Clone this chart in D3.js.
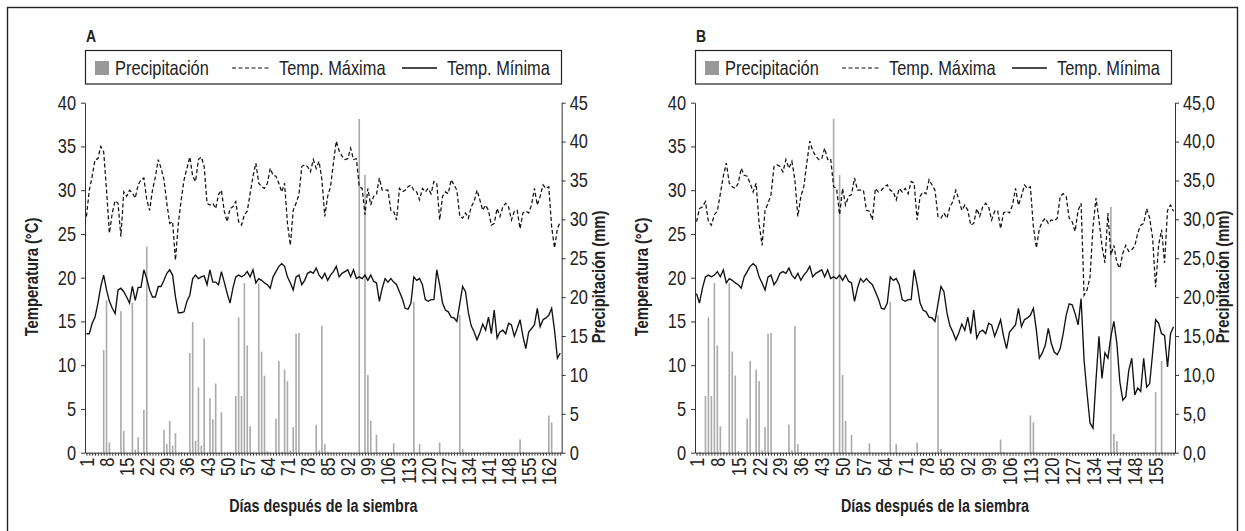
<!DOCTYPE html>
<html><head><meta charset="utf-8">
<script src="https://cdn.jsdelivr.net/npm/d3@7"></script>
<style>
body{margin:0;background:#fff}
svg{display:block}
text{font-family:"Liberation Sans",Arial,sans-serif;fill:#222}
</style>
</head><body>
<svg id="c" width="1245" height="531"></svg>
<script>
// ---------- DATA ----------
const legendLabels = ["Precipitación", "Temp. Máxima", "Temp. Mínima"];
const tempTicks = [0, 5, 10, 15, 20, 25, 30, 35, 40];
const precipTicks = [0, 5, 10, 15, 20, 25, 30, 35, 40, 45];
const xLabelsA = [1,8,15,22,29,36,43,50,57,64,71,78,85,92,99,106,113,120,127,134,141,148,155,162];
const xLabelsB = [1,8,15,22,29,36,43,50,57,64,71,78,85,92,99,106,113,120,127,134,141,148,155];

// Panel A: daily max / min temperature (°C), days 1..166
const tmaxA = [27.0,30.0,31.6,33.5,33.6,35.0,34.4,30.0,25.1,27.4,
28.8,28.5,24.7,29.8,29.3,30.0,29.7,29.1,30.6,31.2,
31.4,28.9,27.7,30.0,31.5,33.5,32.5,31.2,28.5,26.2,
26.4,22.0,26.2,28.9,31.2,32.5,33.8,31.6,31.0,33.5,
33.8,32.7,28.5,28.3,28.5,27.9,29.5,30.0,27.6,26.4,
27.9,28.1,28.7,26.4,26.0,27.2,27.6,29.6,31.6,33.1,
30.8,30.4,30.2,30.8,32.5,31.7,31.6,30.8,29.8,30.8,
26.2,23.7,27.7,28.5,29.5,32.7,32.9,32.7,32.1,33.5,
32.5,33.3,31.2,27.0,29.3,30.4,33.1,35.6,34.5,33.9,
33.5,33.6,34.8,33.5,33.6,30.4,30.2,27.2,30.2,28.3,
29.3,29.5,31.4,30.0,30.0,30.0,27.7,27.6,26.6,30.2,
29.8,30.0,30.4,30.6,30.0,29.8,28.9,30.2,29.8,30.2,
29.6,31.0,30.8,26.6,29.3,29.8,29.6,31.2,30.6,30.0,
27.0,26.8,27.4,26.8,28.1,28.7,30.0,28.9,27.7,28.3,
27.7,26.0,26.2,27.9,27.0,28.1,28.5,28.1,26.6,27.6,
27.7,25.6,27.4,27.6,27.4,28.3,30.2,28.3,29.3,30.6,
30.2,30.4,25.8,23.4,25.6,26.4];
const tminA = [13.6,13.6,14.8,15.5,17.1,19.0,20.3,18.6,17.3,16.5,
15.9,18.6,18.8,18.4,17.8,17.1,19.0,17.4,18.9,18.9,
20.9,19.9,18.6,17.8,17.8,19.0,19.0,19.7,20.5,20.9,
20.3,17.8,16.0,16.0,16.1,17.3,18.0,19.9,20.3,19.9,
20.1,20.2,19.2,20.9,19.5,19.5,19.2,20.7,19.5,18.2,
17.1,18.8,20.1,20.3,20.1,20.3,20.7,20.1,20.9,19.4,
19.9,19.7,19.4,19.2,18.8,20.1,20.7,21.3,21.6,21.3,
20.1,19.4,18.6,20.1,20.3,19.2,19.7,20.5,20.7,20.5,
21.1,20.3,19.9,20.5,19.7,20.3,20.7,21.3,20.1,20.5,
20.7,20.9,20.1,20.9,19.9,20.1,19.9,20.3,19.7,20.3,
19.6,19.4,17.3,18.8,19.9,19.5,19.9,19.5,19.2,18.4,
17.6,16.5,16.4,17.1,20.1,19.7,19.9,19.2,17.5,17.3,
17.5,17.5,20.9,19.2,17.1,16.3,16.1,15.5,15.4,15.0,
17.0,19.0,18.4,16.0,14.5,13.8,12.9,13.7,14.7,14.0,
15.5,13.6,16.3,13.1,13.8,14.0,13.6,14.8,14.6,13.3,
14.2,15.2,13.3,11.9,13.8,14.2,14.6,16.5,14.4,15.2,
15.4,15.7,16.5,14.0,10.8,11.4];
// Panel A: rainy days and precipitation (mm)
const rainDaysA = [7,8,9,13,14,17,18,19,21,22,28,29,30,31,32,34,37,38,39,40,41,42,44,45,46,48,51,
53,54,55,56,57,58,59,61,62,63,64,67,68,69,70,71,72,73,74,75,81,82,83,84,85,96,98,99,100,102,108,
115,117,124,131,132,141,152,153,162,163];
const rainA = [13.2,19.6,1.3,18.2,2.8,19.3,0.4,2.0,5.5,26.5,2.9,1.1,4.1,0.9,2.5,0.1,12.8,16.8,1.5,8.4,0.9,14.7,7.0,4.3,8.9,5.2,0.1,
7.3,17.4,7.3,21.8,13.8,3.4,0.1,21.8,13.0,9.9,0.2,4.4,11.8,0.1,10.7,9.2,0.3,3.3,15.3,15.4,3.6,0.3,16.3,1.1,0.1,42.9,35.7,10.0,4.1,2.3,1.2,
19.4,1.1,1.3,17.7,0.5,0.1,1.7,0.1,4.8,3.9];

// Panel B: days 1..161
const tmaxB = [26.4,27.9,28.1,28.7,26.4,26.0,27.2,27.6,29.6,31.6,
33.1,30.8,30.4,30.2,30.8,32.5,31.7,31.6,30.8,29.8,
30.8,26.2,23.7,27.7,28.5,29.5,32.7,32.9,32.7,32.1,
33.5,32.5,33.3,31.2,27.0,29.3,30.4,33.1,35.6,34.5,
33.9,33.5,33.6,34.8,33.5,33.6,30.4,30.2,27.2,30.2,
28.3,29.3,29.5,31.4,30.0,30.0,30.0,27.7,27.6,26.6,
30.2,29.8,30.0,30.4,30.6,30.0,29.8,28.9,30.2,29.8,
30.2,29.6,31.0,30.8,26.6,29.3,29.8,29.6,31.2,30.6,
30.0,27.0,26.8,27.4,26.8,28.1,28.7,30.0,28.9,27.7,
28.3,27.7,26.0,26.2,27.9,27.0,28.1,28.5,28.1,26.6,
27.6,27.7,25.6,27.4,27.6,27.4,28.3,30.2,28.3,29.3,
30.6,30.2,30.4,25.8,23.4,25.6,26.4,
26.8,26.2,26.6,26.5,26.8,29.3,29.6,29.3,26.8,26.4,
25.3,27.7,28.5,18.0,18.6,20.1,25.8,29.1,26.6,23.6,
21.7,27.4,22.6,23.7,21.7,21.1,22.8,23.7,23.0,23.2,
23.6,25.1,26.0,26.2,27.9,26.8,24.5,18.9,23.7,25.5,
21.7,27.7,28.3,27.6];
const tminB = [18.2,17.1,18.8,20.1,20.3,20.1,20.3,20.7,20.1,20.9,
19.4,19.9,19.7,19.4,19.2,18.8,20.1,20.7,21.3,21.6,
21.3,20.1,19.4,18.6,20.1,20.3,19.2,19.7,20.5,20.7,
20.5,21.1,20.3,19.9,20.5,19.7,20.3,20.7,21.3,20.1,
20.5,20.7,20.9,20.1,20.9,19.9,20.1,19.9,20.3,19.7,
20.3,19.6,19.4,17.3,18.8,19.9,19.5,19.9,19.5,19.2,
18.4,17.6,16.5,16.4,17.1,20.1,19.7,19.9,19.2,17.5,
17.3,17.5,17.5,20.9,19.2,17.1,16.3,16.1,15.5,15.4,
15.0,17.0,19.0,18.4,16.0,14.5,13.8,12.9,13.7,14.7,
14.0,15.5,13.6,16.3,13.1,13.8,14.0,13.6,14.8,14.6,
13.3,14.2,15.2,13.3,11.9,13.8,14.2,14.6,16.5,14.4,
15.2,15.4,15.7,16.5,14.0,10.8,11.4,
12.3,14.2,12.5,11.5,11.2,11.9,13.6,15.7,17.0,16.9,
15.9,14.6,17.6,10.6,6.8,3.4,2.8,8.3,13.3,8.5,
11.4,10.8,13.3,15.0,12.5,8.1,6.0,6.4,9.4,10.8,
6.6,7.4,7.0,10.8,7.5,7.9,11.4,15.2,14.8,13.6,
13.4,9.8,13.6,14.4];
const rainDaysB = [2,4,5,6,7,8,9,10,12,13,14,15,18,19,20,21,22,23,24,25,26,32,33,34,35,36,47,49,50,51,53,59,
66,68,75,82,83,92,103,104,113,114,140,141,142,144,151,155,157];
const rainB = [0.1,7.3,17.4,7.3,21.8,13.8,3.4,0.1,21.8,13.0,9.9,0.2,4.4,11.8,0.1,10.7,9.2,0.3,3.3,15.3,15.4,3.6,0.3,16.3,1.1,0.1,42.9,35.7,10.0,4.1,2.3,1.2,
19.4,1.1,1.3,17.7,0.5,0.1,1.7,0.1,4.8,3.9,31.6,2.4,1.5,0.1,0.1,7.8,11.8];

// ---------- DRAWING ----------
const SX = 0.82; // horizontal condensing (narrow typeface look)
const svg = d3.select("#c");
svg.append("rect").attr("x", 7.5).attr("y", 7.5).attr("width", 1230).attr("height", 540)
  .attr("fill", "none").attr("stroke", "#222").attr("stroke-width", 1.4);

const TOP = 102.7, BOT = 452.7;
const FS = 20;

function narrowText(g, x, y, str, size, anchor, bold, rot) {
  const t = g.append("text")
    .attr("transform", `translate(${x},${y})` + (rot ? " rotate(-90)" : "") + ` scale(${SX},1)`)
    .attr("text-anchor", anchor).style("font-size", size + "px").text(str);
  if (bold) t.attr("font-weight", "bold");
  return t;
}
function narrowTicks(sel, extra) {
  sel.each(function () {
    const t = d3.select(this);
    const x = +t.attr("x") || 0;
    t.attr("x", x / SX).attr("transform", (extra || "") + ` scale(${SX},1)`);
  });
}

function panel(o) {
  const N = o.tmax.length;
  const g = svg.append("g");
  const x = d3.scaleLinear().domain([0.5, N + 0.5]).range([o.left, o.right]);
  const yT = d3.scaleLinear().domain([0, 40]).range([BOT, TOP]);
  const yP = d3.scaleLinear().domain([0, 45]).range([BOT, TOP]);

  // precipitation bars
  g.append("g").selectAll("rect").data(o.rainDays).join("rect")
    .attr("x", d => x(d) - 0.8).attr("width", 1.6)
    .attr("y", (d, i) => yP(o.rain[i]))
    .attr("height", (d, i) => yP(0) - yP(o.rain[i]))
    .attr("fill", "#aaaaaa");

  const line = d3.line().x((d, i) => x(i + 1)).y(d => yT(d));
  g.append("path").datum(o.tmax).attr("d", line).attr("fill", "none")
    .attr("stroke", "#111").attr("stroke-width", 1.25).attr("stroke-dasharray", "4,2.5");
  g.append("path").datum(o.tmin).attr("d", line).attr("fill", "none")
    .attr("stroke", "#111").attr("stroke-width", 1.35);

  // axes
  const days = d3.range(1, N + 1);
  const xa = g.append("g").attr("transform", `translate(0,${BOT})`)
    .call(d3.axisBottom(x).tickValues(days).tickSize(3).tickSizeOuter(0)
      .tickFormat(d => o.xLabels.includes(d) ? String(d) : ""));
  xa.selectAll("text").attr("x", -5).attr("y", 0)
    .attr("dy", "0.35em").attr("text-anchor", "end").style("font-size", FS + "px");
  narrowTicks(xa.selectAll("text"), "rotate(-90)");

  const la = g.append("g").attr("transform", `translate(${o.left},0)`)
    .call(d3.axisLeft(yT).tickValues(tempTicks).tickSize(4).tickPadding(5).tickSizeOuter(0));
  la.selectAll("text").style("font-size", FS + "px");
  narrowTicks(la.selectAll("text"));

  const ra = g.append("g").attr("transform", `translate(${o.right},0)`)
    .call(d3.axisRight(yP).tickValues(precipTicks).tickSize(4).tickPadding(4).tickSizeOuter(0)
      .tickFormat(o.pfmt));
  ra.selectAll("text").style("font-size", FS + "px");
  narrowTicks(ra.selectAll("text"));

  g.selectAll(".domain, .tick line").attr("stroke", "#333");
  g.selectAll(".tick text").attr("fill", "#222").style("font-family", '"Liberation Sans",Arial,sans-serif');

  // axis titles
  const cy = 277;
  narrowText(g, o.left - 47, cy, "Temperatura (°C)", 18, "middle", true, true);
  narrowText(g, o.right + o.rTitle, cy, "Precipitación (mm)", 18, "middle", true, true);
  narrowText(g, (o.left + o.right) / 2, 512, "Días después de la siembra", 17.5, "middle", true, false);

  // panel letter
  narrowText(g, o.left + 1, 42, o.letter, 17, "start", true, false);

  // legend
  const L = o.left;
  const lg = g.append("g");
  lg.append("rect").attr("x", L + 0.5).attr("y", 50.5).attr("width", 476).attr("height", 33.5)
    .attr("fill", "#fff").attr("stroke", "#222").attr("stroke-width", 1.2);
  lg.append("rect").attr("x", L + 10).attr("y", 61).attr("width", 14).attr("height", 14).attr("fill", "#999");
  narrowText(lg, L + 30, 75, legendLabels[0], 20, "start", false, false);
  lg.append("line").attr("x1", L + 147).attr("x2", L + 184).attr("y1", 68).attr("y2", 68)
    .attr("stroke", "#111").attr("stroke-width", 1.2).attr("stroke-dasharray", "4,2.5");
  narrowText(lg, L + 194, 75, legendLabels[1], 20, "start", false, false);
  lg.append("line").attr("x1", L + 317).attr("x2", L + 352).attr("y1", 68).attr("y2", 68)
    .attr("stroke", "#111").attr("stroke-width", 1.3);
  narrowText(lg, L + 362, 75, legendLabels[2], 20, "start", false, false);
}

panel({ left: 85, right: 561.7, tmax: tmaxA, tmin: tminA, rainDays: rainDaysA, rain: rainA,
  xLabels: xLabelsA, letter: "A", pfmt: d => String(d), rTitle: 43 });
panel({ left: 695, right: 1175, tmax: tmaxB, tmin: tminB, rainDays: rainDaysB, rain: rainB,
  xLabels: xLabelsB, letter: "B", pfmt: d => d.toFixed(1).replace(".", ","), rTitle: 54 });
</script>
</body></html>
